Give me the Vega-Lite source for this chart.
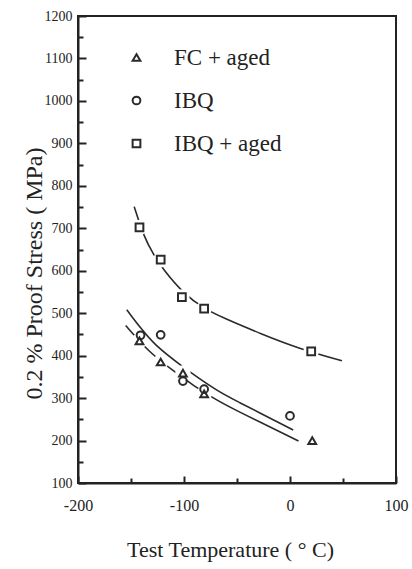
{
  "$schema": "https://vega.github.io/schema/vega-lite/v6.json",
  "width": 318,
  "height": 467,
  "autosize": {"type": "none"},
  "padding": {"left": 78, "top": 16, "right": 16, "bottom": 86},
  "background": "white",
  "config": {
    "view": {"stroke": "#222", "strokeWidth": 2},
    "axis": {
      "grid": false,
      "domainColor": "#222",
      "domainWidth": 2,
      "tickColor": "#222",
      "tickWidth": 2,
      "labelColor": "#222",
      "titleColor": "#222",
      "labelFont": "Liberation Serif",
      "titleFont": "Liberation Serif",
      "titleFontWeight": "normal"
    }
  },
  "datasets": {
    "points": [
      {"series": "FC + aged", "temperature": -142, "stress": 435},
      {"series": "FC + aged", "temperature": -122, "stress": 385},
      {"series": "FC + aged", "temperature": -101, "stress": 359},
      {"series": "FC + aged", "temperature": -81, "stress": 310},
      {"series": "FC + aged", "temperature": 21, "stress": 200},
      {"series": "IBQ", "temperature": -141, "stress": 448},
      {"series": "IBQ", "temperature": -122, "stress": 449},
      {"series": "IBQ", "temperature": -101, "stress": 340},
      {"series": "IBQ", "temperature": -81, "stress": 321},
      {"series": "IBQ", "temperature": 0, "stress": 258},
      {"series": "IBQ + aged", "temperature": -142, "stress": 702},
      {"series": "IBQ + aged", "temperature": -122, "stress": 626},
      {"series": "IBQ + aged", "temperature": -102, "stress": 538},
      {"series": "IBQ + aged", "temperature": -81, "stress": 511},
      {"series": "IBQ + aged", "temperature": 20, "stress": 410}
    ],
    "curves": [
      {"curve": "IBQ + aged fit", "temperature": -147, "stress": 751},
      {"curve": "IBQ + aged fit", "temperature": -138, "stress": 681},
      {"curve": "IBQ + aged fit", "temperature": -129, "stress": 639},
      {"curve": "IBQ + aged fit", "temperature": -120, "stress": 604},
      {"curve": "IBQ + aged fit", "temperature": -100, "stress": 545},
      {"curve": "IBQ + aged fit", "temperature": -81, "stress": 511},
      {"curve": "IBQ + aged fit", "temperature": -64, "stress": 490},
      {"curve": "IBQ + aged fit", "temperature": -26, "stress": 450},
      {"curve": "IBQ + aged fit", "temperature": 8, "stress": 417},
      {"curve": "IBQ + aged fit", "temperature": 49, "stress": 388},
      {"curve": "IBQ fit", "temperature": -154, "stress": 508},
      {"curve": "IBQ fit", "temperature": -140, "stress": 462},
      {"curve": "IBQ fit", "temperature": -128, "stress": 426},
      {"curve": "IBQ fit", "temperature": -104, "stress": 378},
      {"curve": "IBQ fit", "temperature": -67, "stress": 314},
      {"curve": "IBQ fit", "temperature": -55, "stress": 299},
      {"curve": "IBQ fit", "temperature": 3, "stress": 225},
      {"curve": "FC + aged fit", "temperature": -155, "stress": 471},
      {"curve": "FC + aged fit", "temperature": -133, "stress": 408},
      {"curve": "FC + aged fit", "temperature": -111, "stress": 366},
      {"curve": "FC + aged fit", "temperature": -91, "stress": 329},
      {"curve": "FC + aged fit", "temperature": -69, "stress": 295},
      {"curve": "FC + aged fit", "temperature": -55, "stress": 276},
      {"curve": "FC + aged fit", "temperature": 8, "stress": 199}
    ]
  },
  "encoding": {
    "x": {
      "field": "temperature",
      "type": "quantitative",
      "scale": {"domain": [-200, 100], "nice": false, "zero": false},
      "axis": {
        "title": "Test Temperature ( ° C)",
        "titleFont": "Liberation Serif",
        "titleFontSize": 22,
        "titleX": 152,
        "titleY": 73,
        "titleBaseline": "alphabetic",
        "values": [-200, -150, -100, -50, 0, 50, 100],
        "labelExpr": "datum.value % 100 === 0 ? '' + datum.value : ''",
        "labelFont": "Liberation Serif",
        "labelFontSize": 16,
        "labelPadding": 21,
        "labelFlush": false,
        "tickSize": {"condition": {"test": "datum.value % 100 === 0", "value": -7}, "value": -5}
      }
    },
    "y": {
      "field": "stress",
      "type": "quantitative",
      "scale": {"domain": [100, 1200], "nice": false, "zero": false},
      "axis": {
        "title": "0.2 %  Proof Stress ( MPa)",
        "titleFont": "Liberation Serif",
        "titleFontSize": 24,
        "titleAngle": 270,
        "titleX": -44,
        "titleY": 257,
        "titleAlign": "center",
        "titleBaseline": "middle",
        "values": [100, 150, 200, 250, 300, 350, 400, 450, 500, 550, 600, 650, 700, 750, 800, 850, 900, 950, 1000, 1050, 1100, 1150, 1200],
        "labelExpr": "datum.value % 100 === 0 ? '' + datum.value : ''",
        "labelFont": "Liberation Serif",
        "labelFontSize": 14,
        "labelPadding": 14,
        "labelFlush": false,
        "tickSize": {"condition": {"test": "datum.value % 100 === 0", "value": -8}, "value": -5}
      }
    }
  },
  "layer": [
    {
      "data": {"name": "curves"},
      "mark": {"type": "line", "color": "#2a2a2a", "strokeWidth": 1.6, "interpolate": "basis"},
      "encoding": {"detail": {"field": "curve", "type": "nominal"}}
    },
    {
      "data": {"name": "points"},
      "transform": [{"filter": "datum.series !== 'IBQ'"}],
      "mark": {"type": "point", "shape": "circle", "filled": true, "color": "white", "size": 240, "opacity": 1}
    },
    {
      "data": {"name": "points"},
      "mark": {"type": "point", "filled": false, "strokeWidth": 2, "size": 60, "color": "#2a2a2a", "opacity": 1},
      "encoding": {
        "shape": {
          "field": "series",
          "type": "nominal",
          "scale": {"domain": ["FC + aged", "IBQ", "IBQ + aged"], "range": ["triangle-up", "circle", "square"]},
          "legend": {
            "title": null,
            "orient": "none",
            "legendX": 47,
            "legendY": 30,
            "symbolSize": 60,
            "symbolStrokeWidth": 2,
            "symbolStrokeColor": "#2a2a2a",
            "symbolFillColor": "transparent",
            "labelFont": "Liberation Serif",
            "labelFontSize": 23,
            "labelColor": "#222",
            "labelOffset": 26,
            "rowPadding": 19
          }
        }
      }
    }
  ]
}
